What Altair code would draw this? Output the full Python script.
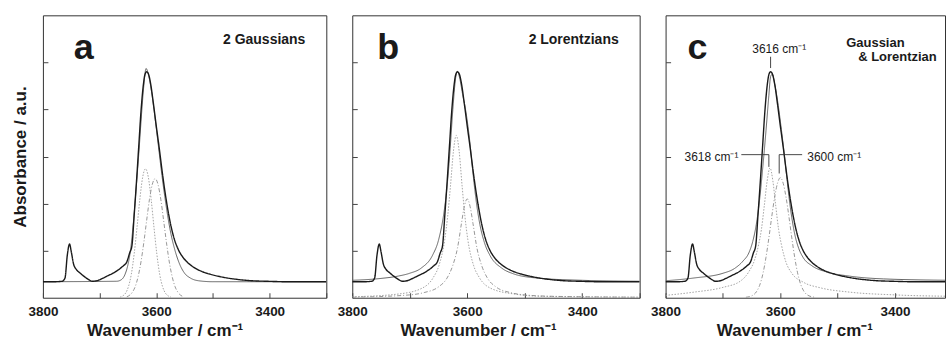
import altair as alt
import pandas as pd

# ---------------- data ----------------
# measured spectrum (same in all three panels)
spec_wn = [3800,3780,3766,3761,3757,3753,3750,3746,3741,3735,3728,3720,3713,3705,3695,3685,3675,3666,3658,3652,
           3647,3643,3639,3635,3631,3627,3623,3620,3617,3614,3610,3605,3600,3595,3590,3585,3580,3574,3568,3561,
           3553,3544,3533,3520,3505,3488,3470,3450,3430,3405,3370,3330,3300]
spec_v = [0.34,0.34,0.35,0.42,0.90,1.14,0.98,0.72,0.60,0.53,0.46,0.39,0.35,0.36,0.41,0.47,0.53,0.60,0.68,0.76,
          0.95,1.10,1.75,2.45,3.20,3.95,4.50,4.74,4.80,4.76,4.55,4.12,3.65,3.20,2.72,2.28,1.90,1.52,1.24,1.02,
          0.86,0.74,0.64,0.56,0.50,0.45,0.41,0.38,0.36,0.35,0.34,0.34,0.34]

# panel a: 2 Gaussians
a_fit_wn = [3800,3670,3662,3655,3650,3645,3640,3635,3630,3626,3622,3618,3614,3608,3602,3596,3590,3585,3580,3574,
            3568,3560,3550,3540,3525,3500,3300]
a_fit_v = [0.34,0.35,0.38,0.50,0.70,1.05,1.65,2.40,3.20,3.90,4.50,4.87,4.75,4.35,3.80,3.20,2.60,2.15,1.75,1.35,
           1.05,0.75,0.52,0.42,0.36,0.34,0.34]
a_g1_wn = [3664,3659,3654,3649,3644,3639,3634,3629,3624,3619,3614,3609,3604,3599,3594,3589,3584,3579,3574]
a_g1_v = [0.01,0.04,0.10,0.24,0.50,0.93,1.49,2.09,2.56,2.74,2.56,2.09,1.49,0.93,0.50,0.24,0.10,0.04,0.01]
a_g2_wn = [3652,3642,3637,3632,3627,3622,3617,3612,3607,3602,3597,3592,3587,3582,3577,3572,3567,3562,3552]
a_g2_v = [0.02,0.12,0.24,0.45,0.76,1.17,1.64,2.09,2.41,2.53,2.41,2.09,1.64,1.17,0.76,0.45,0.24,0.12,0.02]

# panel b: 2 Lorentzians
b_fit_wn = [3800,3750,3720,3700,3680,3660,3650,3640,3635,3630,3625,3620,3617,3613,3608,3602,3596,3590,3584,3578,
            3570,3560,3540,3520,3480,3400,3300]
b_fit_v = [0.37,0.41,0.46,0.52,0.63,0.91,1.22,1.85,2.37,3.11,4.00,4.68,4.81,4.66,4.32,3.93,3.37,2.65,2.02,1.56,
           1.17,0.89,0.63,0.51,0.42,0.37,0.35]
b_l1_wn = [3800,3719,3679,3659,3649,3639,3634,3629,3624,3619,3614,3609,3604,3599,3589,3579,3559,3519,3469,3300]
b_l1_v = [0.02,0.08,0.20,0.43,0.69,1.24,1.73,2.39,3.11,3.45,3.11,2.39,1.73,1.24,0.69,0.43,0.20,0.08,0.03,0.01]
b_l2_wn = [3800,3700,3675,3650,3635,3625,3617,3610,3605,3600,3595,3590,3583,3575,3565,3550,3525,3500,3450,3300]
b_l2_v = [0.01,0.06,0.11,0.23,0.42,0.69,1.05,1.58,1.94,2.10,1.94,1.58,1.05,0.69,0.42,0.23,0.11,0.06,0.03,0.01]

# panel c: Gaussian & Lorentzian
c_fit_wn = [3800,3750,3700,3680,3665,3655,3648,3642,3636,3630,3625,3620,3617,3614,3610,3605,3600,3595,3590,3585,
            3580,3574,3568,3560,3545,3520,3480,3420,3300]
c_fit_v = [0.36,0.42,0.52,0.62,0.78,0.95,1.20,1.55,2.10,2.85,3.55,4.30,4.70,4.75,4.55,4.20,3.75,3.25,2.70,2.15,
           1.70,1.30,1.05,0.85,0.68,0.55,0.46,0.40,0.37]
c_l_wn = [3800,3750,3700,3670,3655,3645,3638,3633,3628,3623,3618,3613,3608,3603,3598,3590,3580,3560,3530,3480,3400,3300]
c_l_v = [0.05,0.12,0.22,0.35,0.55,0.80,1.12,1.45,1.95,2.48,2.76,2.48,1.95,1.45,1.12,0.75,0.52,0.33,0.21,0.12,0.06,0.03]
c_g_wn = [3660,3650,3640,3635,3630,3625,3620,3615,3610,3605,3600,3595,3590,3585,3580,3575,3570,3565,3560,3550,3540]
c_g_v = [0.01,0.04,0.16,0.30,0.53,0.86,1.27,1.72,2.13,2.43,2.55,2.43,2.13,1.72,1.27,0.86,0.53,0.30,0.16,0.04,0.01]

# panel c annotations
ann_path_id = ["L", "L", "L", "R", "R", "R", "P", "P"]
ann_path_i = [0, 1, 2, 0, 1, 2, 0, 1]
ann_path_wn = [3668, 3620, 3620, 3562, 3602, 3602, 3617, 3617]
ann_path_v = [3.04, 3.04, 2.78, 3.04, 3.04, 2.64, 5.12, 4.88]
ann_text = ["3616 cm⁻¹", "3618 cm⁻¹", "3600 cm⁻¹"]
ann_text_wn = [3602, 3673, 3553]
ann_text_v = [5.21, 2.91, 2.91]

panel_letters = ["a", "b", "c"]
panel_titles = [["2 Gaussians"], ["2 Lorentzians"], ["Gaussian", "& Lorentzian"]]

FONT = "Liberation Sans"
INK = "#1a1a1a"


def df(wn, v):
    return pd.DataFrame({"wn": wn, "v": v})


def make_panel(idx, width, xmin, fit, comp1, comp2, tick_vals, show_ytitle, title_x):
    xscale = alt.Scale(domain=[xmin, 3800], reverse=True, nice=False, zero=False)
    yscale = alt.Scale(domain=[0, 6], nice=False, zero=False)
    xaxis = alt.Axis(
        title="Wavenumber / cm⁻¹", values=tick_vals, format="d",
        labelExpr="(datum.value == 3800 || datum.value == 3600 || datum.value == 3400) ? datum.label : ''",
        tickSize=5, offset=-5, domain=False, grid=False, labelPadding=7,
        labelFlush=False, labelOverlap=False, titlePadding=4,
        titleX=title_x, titleAlign="center",
    )
    if show_ytitle:
        yaxis = alt.Axis(title="Absorbance / a.u.", values=[1, 2, 3, 4, 5], labels=False,
                         tickSize=5, offset=-5, domain=False, grid=False, titlePadding=13)
    else:
        yaxis = alt.Axis(title=None, values=[1, 2, 3, 4, 5], labels=False,
                         tickSize=5, offset=-5, domain=False, grid=False)
    X = alt.X("wn:Q", scale=xscale, axis=xaxis)
    Y = alt.Y("v:Q", scale=yscale, axis=yaxis)

    def line(d, color, w, dash):
        return alt.Chart(d).mark_line(color=color, strokeWidth=w, strokeDash=dash,
                                      interpolate="monotone", clip=True).encode(x=X, y=Y)

    layers = [
        line(df(*comp1), "#9a9a9a", 0.9, [1.5, 1.5]),
        line(df(*comp2), "#8c8c8c", 0.9, [4, 2, 1, 2]),
        line(df(*fit), "#555555", 0.9, [1, 0]),
        line(df(spec_wn, spec_v), INK, 1.4, [1, 0]),
    ]

    letter_x = [31, 25, 22][idx]
    layers.append(
        alt.Chart(pd.DataFrame({"t": [panel_letters[idx]]})).mark_text(
            font=FONT, fontWeight="bold", fontSize=36, align="left", baseline="alphabetic", color=INK
        ).encode(x=alt.value(letter_x), y=alt.value(44), text="t:N")
    )
    titles = panel_titles[idx]
    if len(titles) == 1:
        layers.append(
            alt.Chart(pd.DataFrame({"t": titles})).mark_text(
                font=FONT, fontWeight="bold", fontSize=14, align="right", baseline="alphabetic", color=INK
            ).encode(x=alt.value(width - 21), y=alt.value(29), text="t:N")
        )
    else:
        for t, xx, yy in zip(titles, [181, 193], [32, 46]):
            layers.append(
                alt.Chart(pd.DataFrame({"t": [t]})).mark_text(
                    font=FONT, fontWeight="bold", fontSize=13, align="left", baseline="alphabetic", color=INK
                ).encode(x=alt.value(xx), y=alt.value(yy), text="t:N")
            )
    return layers, X, Y


pa_layers, _, _ = make_panel(0, 284, 3300, (a_fit_wn, a_fit_v), (a_g1_wn, a_g1_v), (a_g2_wn, a_g2_v),
                             [3800, 3700, 3600, 3500, 3400, 3300], True, 122)
pb_layers, _, _ = make_panel(1, 288, 3300, (b_fit_wn, b_fit_v), (b_l1_wn, b_l1_v), (b_l2_wn, b_l2_v),
                             [3800, 3700, 3600, 3500, 3400, 3300], False, 126)
pc_layers, Xc, Yc = make_panel(2, 280, 3313, (c_fit_wn, c_fit_v), (c_l_wn, c_l_v), (c_g_wn, c_g_v),
                               [3800, 3700, 3600, 3500, 3400], False, 129)

ann_df = pd.DataFrame({"id": ann_path_id, "i": ann_path_i, "wn": ann_path_wn, "v": ann_path_v})
pc_layers.append(
    alt.Chart(ann_df).mark_line(color="#333333", strokeWidth=0.9).encode(
        x=Xc, y=Yc, detail="id:N", order="i:Q")
)
for t, w, v, al in zip(ann_text, ann_text_wn, ann_text_v, ["center", "right", "left"]):
    pc_layers.append(
        alt.Chart(pd.DataFrame({"t": [t], "wn": [w], "v": [v]})).mark_text(
            font=FONT, fontSize=12, align=al, baseline="alphabetic", color=INK
        ).encode(x=Xc, y=Yc, text="t:N")
    )

pa = alt.layer(*pa_layers).properties(width=284, height=283)
pb = alt.layer(*pb_layers).properties(width=288, height=283)
pc = alt.layer(*pc_layers).properties(width=280, height=283)

chart = alt.hconcat(pa, pb, pc, spacing=26, bounds="flush").properties(
    padding={"left": 11, "top": 14, "right": 0, "bottom": 0}
).configure_view(
    stroke="#333333", strokeWidth=1
).configure_axis(
    labelFont=FONT, labelFontWeight="bold", labelFontSize=13.5, labelColor=INK,
    titleFont=FONT, titleFontWeight="bold", titleFontSize=17, titleColor=INK,
    tickColor="#444444", tickWidth=1
)

chart.save("out.html", embed_options={"renderer": "svg", "actions": False})
